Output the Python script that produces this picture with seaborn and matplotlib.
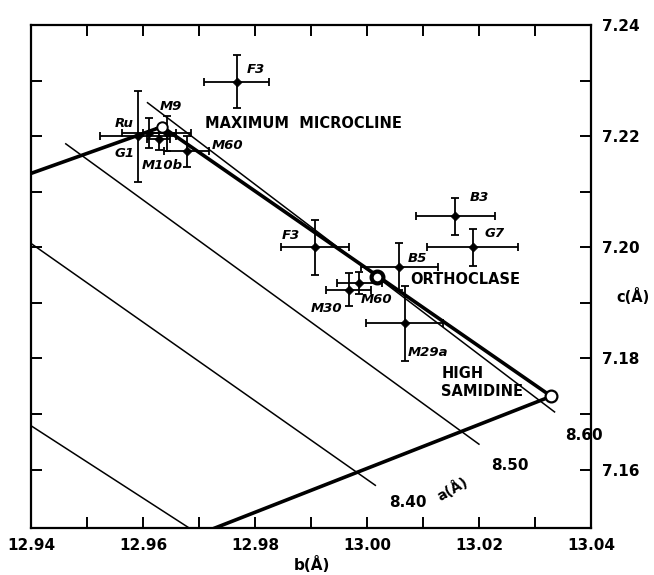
import numpy as np
import pandas as pd
import matplotlib
matplotlib.use('Agg')
import matplotlib.pyplot as plt
from matplotlib.ticker import FixedLocator, FuncFormatter
import seaborn as sns

# --- datos ---
# muestras (b, c) con barras de error
sample_names = ['F3', 'Ru', 'G1', 'M9', 'M10b', 'M60', 'F3', 'B3', 'G7', 'B5', 'M60', 'M30', 'M29a']
b_vals = [12.9767, 12.9611, 12.9591, 12.9643, 12.9628, 12.9678, 12.9907,
          13.0158, 13.0189, 13.0058, 12.9986, 12.9967, 13.0067]
c_vals = [7.2298, 7.2205, 7.2200, 7.2205, 7.2195, 7.2173, 7.2000,
          7.2056, 7.2000, 7.1965, 7.1936, 7.1924, 7.1863]
b_err = [0.0058, 0.0048, 0.0068, 0.0043, 0.0020, 0.0040, 0.0060,
         0.0071, 0.0081, 0.0068, 0.0040, 0.0040, 0.0068]
c_err = [0.0048, 0.0027, 0.0082, 0.0032, 0.0020, 0.0028, 0.0049,
         0.0033, 0.0033, 0.0042, 0.0020, 0.0029, 0.0068]

# miembros extremos
em_names = ['MAXIMUM  MICROCLINE', 'ORTHOCLASE', 'HIGH\nSAMIDINE']
em_b = [12.9634, 13.0018, 13.0329]
em_c = [7.2217, 7.1947, 7.1732]

# contorno grueso
outline_b = [12.9400, 12.9634, 13.0329, 12.9726]
outline_c = [7.2133, 7.2217, 7.1732, 7.1494]

# lineas de a constante
a_labels = ['8.60', '8.50', '8.40', '']
a_b0 = [12.9607, 12.9461, 12.9400, 12.9400]
a_c0 = [7.2261, 7.2187, 7.2007, 7.1679]
a_b1 = [13.0336, 13.0201, 13.0016, 12.9684]
a_c1 = [7.1703, 7.1645, 7.1571, 7.1494]

x_ticks = [12.94, 12.95, 12.96, 12.97, 12.98, 12.99, 13.00, 13.01, 13.02, 13.03, 13.04]
y_ticks = [7.16, 7.17, 7.18, 7.19, 7.20, 7.21, 7.22, 7.23, 7.24]

# --- estilo ---
sns.set_style('ticks')
plt.rcParams['font.family'] = ['DejaVu Sans']
plt.rcParams['font.weight'] = 'bold'
plt.rcParams['text.color'] = 'black'

W, H = 654, 575
fig = plt.figure(figsize=(W / 100, H / 100), dpi=100)
ax = fig.add_axes([31 / W, 1 - 528 / H, 560 / W, 503 / H])
ax.set_xlim(12.94, 13.04)
ax.set_ylim(7.1495, 7.2400)

for s in ax.spines.values():
    s.set_linewidth(1.6)
    s.set_color('black')

# lineas de a constante
for lab, b0, c0, b1, c1, off in zip(a_labels, a_b0, a_c0, a_b1, a_c1,
                                    [(10, -16), (12, -13), (13, -9), (0, 0)]):
    ax.plot([b0, b1], [c0, c1], color='black', lw=1.1, solid_capstyle='butt')
    if lab:
        ax.annotate(lab, (b1, c1), xytext=off, textcoords='offset pixels',
                    ha='left', va='top', fontsize=11, fontweight='bold')

# contorno
ax.plot(outline_b, outline_c, color='black', lw=2.6, solid_joinstyle='miter')

# barras de error
ax.errorbar(b_vals, c_vals, xerr=b_err, yerr=c_err, fmt='none', ecolor='black',
            elinewidth=1.3, capsize=3.2, capthick=1.3)

df = pd.DataFrame({'b': b_vals, 'c': c_vals, 'muestra': sample_names})
sns.scatterplot(data=df, x='b', y='c', marker='D', s=22, color='black',
                edgecolor='black', ax=ax, zorder=5, legend=False)

# etiquetas de muestras (desplazamientos en pixeles)
label_offsets = [(10, 12, 'left'), (-16, 10, 'right'), (-3, -17, 'right'),
                 (-7, 27, 'left'), (4, -27, 'center'), (25, 6, 'left'),
                 (-15, 12, 'right'), (14, 19, 'left'), (12, 14, 'left'),
                 (8, 8, 'left'), (2, -17, 'left'), (-6, -19, 'right'),
                 (3, -29, 'left')]
for name, b, c, (dx, dy, ha) in zip(sample_names, b_vals, c_vals, label_offsets):
    ax.annotate(name, (b, c), xytext=(dx, dy), textcoords='offset pixels',
                ha=ha, va='center', fontsize=9.5, fontweight='bold', fontstyle='italic')

# miembros extremos
ax.plot(em_b[0], em_c[0], 'o', ms=7.5, mfc='white', mec='black', mew=1.4, zorder=6)
ax.plot(em_b[1], em_c[1], 'o', ms=8.5, mfc='white', mec='black', mew=3.0, zorder=6)
ax.plot(em_b[2], em_c[2], 'o', ms=8.5, mfc='white', mec='black', mew=1.6, zorder=6)
em_offsets = [(43, 3), (33, -3), (-110, 14)]
for name, b, c, (dx, dy) in zip(em_names, em_b, em_c, em_offsets):
    ax.annotate(name, (b, c), xytext=(dx, dy), textcoords='offset pixels',
                ha='left', va='center', fontsize=10.5, fontweight='bold',
                multialignment='left', linespacing=1.25)

# ejes
ax.xaxis.set_major_locator(FixedLocator(x_ticks))
ax.yaxis.set_major_locator(FixedLocator(y_ticks))
ax.xaxis.set_major_formatter(FuncFormatter(
    lambda v, p: f'{v:.2f}' if round(v * 100) % 2 == 0 else ''))
ax.yaxis.set_major_formatter(FuncFormatter(
    lambda v, p: f'{v:.2f}' if round(v * 100) % 2 == 0 else ''))
ax.tick_params(axis='both', direction='in', length=8, width=1.4,
               top=True, bottom=True, left=True, right=True,
               labelsize=11, colors='black')
ax.tick_params(axis='y', labelleft=False, labelright=True, pad=8)
ax.tick_params(axis='x', pad=7)
for t in ax.get_xticklabels() + ax.get_yticklabels():
    t.set_fontweight('bold')
ax.set_xlabel('')
ax.set_ylabel('')

fig.text(312 / W, 1 - 565 / H, 'b(Å)', ha='center', va='center',
         fontsize=11, fontweight='bold')
fig.text(633 / W, 1 - 297 / H, 'c(Å)', ha='center', va='center',
         fontsize=10.5, fontweight='bold')
fig.text(452 / W, 1 - 489 / H, 'a(Å)', ha='center', va='center',
         fontsize=10, fontweight='bold', rotation=30)

fig.savefig('out.png', dpi=100, facecolor='white')
